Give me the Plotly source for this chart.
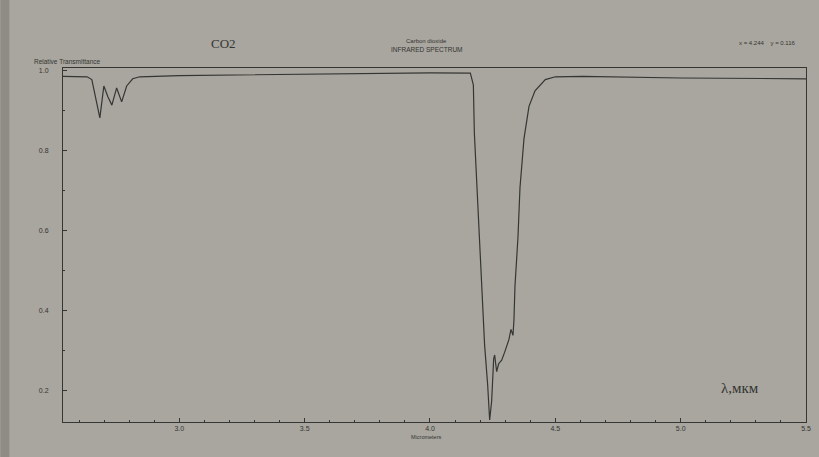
import plotly.graph_objects as go

# Wavelength (micrometers) and relative transmittance
wavelength = [2.536, 2.60, 2.632, 2.651, 2.663, 2.671, 2.683, 2.699, 2.715, 2.731,
              2.750, 2.770, 2.790, 2.814, 2.842, 3.0, 3.5, 4.0, 4.161,
              4.173, 4.177, 4.194, 4.206, 4.218, 4.230, 4.238, 4.246, 4.254,
              4.258, 4.266, 4.274, 4.286, 4.298, 4.315, 4.323, 4.331, 4.335,
              4.339, 4.351, 4.359, 4.375, 4.395, 4.419, 4.460, 4.50, 4.609,
              5.0, 5.5]
transmittance = [0.986, 0.986, 0.985, 0.978, 0.945, 0.915, 0.882, 0.962, 0.935, 0.914,
                 0.957, 0.922, 0.962, 0.980, 0.985, 0.988, 0.992, 0.995, 0.994,
                 0.965, 0.844, 0.623, 0.460, 0.312, 0.214, 0.125, 0.172, 0.278,
                 0.288, 0.246, 0.266, 0.275, 0.295, 0.327, 0.352, 0.337, 0.376,
                 0.460, 0.583, 0.707, 0.830, 0.911, 0.950, 0.978, 0.985, 0.986,
                 0.982, 0.980]

x_ticks = [3.0, 3.5, 4.0, 4.5, 5.0, 5.5]
x_tick_labels = ["3.0", "3.5", "4.0", "4.5", "5.0", "5.5"]
y_ticks = [0.2, 0.4, 0.6, 0.8, 1.0]
y_tick_labels = ["0.2", "0.4", "0.6", "0.8", "1.0"]

paper = "#a8a69f"
ink = "#353532"

fig = go.Figure()
fig.add_trace(go.Scatter(x=wavelength, y=transmittance, mode="lines",
                         line=dict(color=ink, width=1.2), hoverinfo="skip",
                         showlegend=False))

W, H = 819, 457
L, R, T, B = 63, 811, 68, 422


def px(xp):
    return (xp - L) / (R - L)


def py(yp):
    return (B - yp) / (B - T)


annos = [
    dict(text="CO2", x=px(225), y=py(44), size=13, family="Liberation Serif"),
    dict(text="Carbon dioxide", x=px(429), y=py(41), size=6, family="Liberation Sans"),
    dict(text="INFRARED SPECTRUM", x=px(429), y=py(50), size=6.5, family="Liberation Sans"),
    dict(text="Relative Transmittance", x=px(67), y=py(61.5), size=6.5, family="Liberation Sans"),
    dict(text="x = 4.244    y = 0.116", x=px(772), y=py(43), size=6, family="Liberation Sans"),
    dict(text="λ,мкм", x=px(745), y=py(388), size=15, family="Liberation Serif"),
    dict(text="Micrometers", x=px(429), y=py(437), size=5.5, family="Liberation Sans"),
]
for a in annos:
    fig.add_annotation(text=a["text"], x=a["x"], y=a["y"], xref="paper", yref="paper",
                       showarrow=False, xanchor="center", yanchor="middle",
                       font=dict(family=a["family"], size=a["size"], color=ink))

# darker photographic edge on the left
fig.add_shape(type="rect", xref="paper", yref="paper", x0=px(0), x1=px(9), y0=py(457), y1=py(0),
              fillcolor="#8f8c86", line=dict(width=0), layer="below")

fig.update_layout(
    width=W, height=H,
    margin=dict(l=L, r=W - R, t=T, b=H - B),
    paper_bgcolor=paper, plot_bgcolor=paper,
    font=dict(family="Liberation Sans", size=7, color=ink),
    xaxis=dict(range=[2.536, 5.5], tickvals=x_ticks, ticktext=x_tick_labels,
               ticks="inside", ticklen=4, tickcolor=ink, showgrid=False, zeroline=False,
               showline=True, linecolor=ink, linewidth=1, mirror=True,
               minor=dict(dtick=0.1, ticks="inside", ticklen=2, tickcolor=ink, showgrid=False),
               tickfont=dict(size=7, color=ink)),
    yaxis=dict(range=[0.12, 1.007], tickvals=y_ticks, ticktext=y_tick_labels,
               ticks="inside", ticklen=4, tickcolor=ink, showgrid=False, zeroline=False,
               showline=True, linecolor=ink, linewidth=1, mirror=True,
               minor=dict(dtick=0.1, ticks="inside", ticklen=2, tickcolor=ink, showgrid=False),
               tickfont=dict(size=7, color=ink), ticklabelstandoff=12),
)

fig.write_html("out.html", config={"displayModeBar": False},
               post_script="document.body.style.margin='0px';document.body.style.background='" + paper + "';")
